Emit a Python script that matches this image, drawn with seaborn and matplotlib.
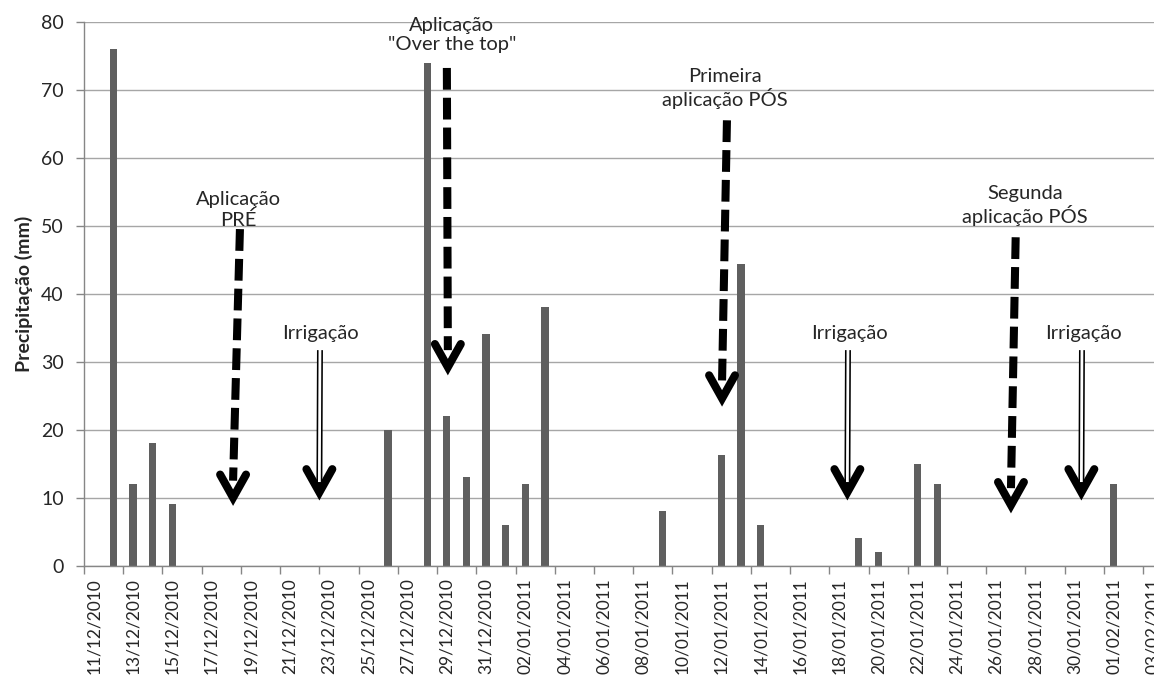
import pandas as pd
import seaborn as sns
import matplotlib.pyplot as plt

# precipitação diária (mm); demais dias = 0
rain_dates = ['12/12/2010', '13/12/2010', '14/12/2010', '15/12/2010', '26/12/2010',
              '28/12/2010', '29/12/2010', '30/12/2010', '31/12/2010', '01/01/2011',
              '02/01/2011', '03/01/2011', '09/01/2011', '12/01/2011', '13/01/2011',
              '14/01/2011', '19/01/2011', '20/01/2011', '22/01/2011', '23/01/2011',
              '01/02/2011']
rain_mm = [76, 12, 18, 9, 20,
           74, 22, 13, 34, 6,
           12, 38, 8, 16.3, 44.3,
           6, 4, 2, 15, 12,
           12]

first_day = '2010-12-11'
last_day = '2011-02-04'

days = pd.date_range(first_day, last_day, freq='D').strftime('%d/%m/%Y').tolist()
df = pd.DataFrame({'data': days})
df['mm'] = df['data'].map(dict(zip(rain_dates, rain_mm))).fillna(0)

sns.set_theme(style='white')
plt.rcParams['font.family'] = ['Lato', 'DejaVu Sans']

fig = plt.figure(figsize=(11.54, 6.85), dpi=100)
ax = fig.add_axes([0.0728, 0.1742, 0.9518, 0.7941])

sns.barplot(data=df, x='data', y='mm', order=days, color='#5f5f5f',
            saturation=1, width=0.37, linewidth=0, ax=ax)

ax.set_xlim(-0.5, len(days) - 0.5)
ax.set_ylim(0, 80)
ax.set_yticks(range(0, 81, 10))
ax.yaxis.grid(True, color='#a6a6a6', lw=1.0)
ax.set_axisbelow(True)

# marcas entre categorias, rótulos a cada 2 dias
ax.set_xticks([i - 0.5 for i in range(0, len(days), 2)])
ax.set_xticklabels([])
ax.set_xticks(range(0, len(days), 2), minor=True)
ax.set_xticklabels(days[::2], minor=True, rotation=90, fontsize=12.5, color='#262626')
ax.tick_params(axis='x', which='major', bottom=True, length=5.5, width=1,
               color='#868686', direction='out')
ax.tick_params(axis='x', which='minor', bottom=True, length=0, pad=9)
ax.tick_params(axis='y', left=True, length=5.5, width=1, color='#868686',
               pad=9, labelsize=14, labelcolor='#262626')

for s in ['top', 'right']:
    ax.spines[s].set_visible(False)
for s in ['left', 'bottom']:
    ax.spines[s].set_color('#868686')
    ax.spines[s].set_linewidth(1)

ax.set_xlabel('')
ax.set_ylabel('Precipitação (mm)', fontsize=14, fontweight='bold', color='#262626',
              labelpad=6)


def head(x, y):
    ax.plot([x - 0.66, x, x + 0.66], [y + 3.4, y, y + 3.4], color='black', lw=5.8,
            solid_joinstyle='miter', solid_capstyle='round', zorder=5)


def dashed_arrow(x0, y0, x1, y1):
    ax.plot([x0, x1], [y0, y1 + 2.5], color='black', lw=5.8,
            linestyle=(0, (2.7, 1.0)), dash_capstyle='butt', zorder=5)
    head(x1, y1)


def double_arrow(x0, y0, x1, y1):
    ax.plot([x0, x1], [y0, y1 + 0.8], color='black', lw=4.3,
            solid_capstyle='butt', zorder=5)
    ax.plot([x0, x1], [y0 + 0.3, y1 + 1.5], color='white', lw=2.0,
            solid_capstyle='butt', zorder=6)
    head(x1, y1)


txt = dict(fontsize=14.5, color='#262626', ha='center', va='center',
           linespacing=1.15, zorder=4)

ax.text(7.35, 52.3, 'Aplicação\nPRÉ', **txt)
dashed_arrow(7.45, 49.5, 7.1, 10.0)

ax.text(18.25, 78.0, 'Aplicação\n"Over the top"', clip_on=False, **txt)
dashed_arrow(18.0, 73.2, 18.05, 29.2)

ax.text(32.18, 70.2, 'Primeira\naplicação PÓS', **txt)
dashed_arrow(32.28, 65.5, 32.03, 24.6)

ax.text(47.47, 53.0, 'Segunda\naplicação PÓS', **txt)
dashed_arrow(47.0, 48.3, 46.76, 8.9)

for xi, xt in [(11.53, 11.57), (38.45, 38.5), (50.38, 50.48)]:
    ax.text(xt, 34.2, 'Irrigação', **txt)
    double_arrow(xi, 31.7, xi - 0.03, 10.8)

fig.savefig('out.png', dpi=100)
